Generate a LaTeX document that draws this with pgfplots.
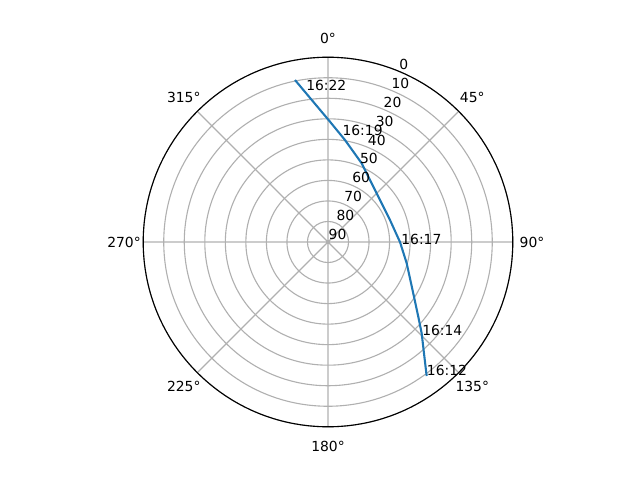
\documentclass[border=0pt]{standalone}
\usepackage{fontspec}
\setmainfont{DejaVu Sans}
\usepackage{pgfplots}
\usepackage{pgfplotstable}
\usepgfplotslibrary{polar}
\pgfplotsset{compat=1.18}
\definecolor{mplblue}{HTML}{1F77B4}
\definecolor{gridgray}{HTML}{B0B0B0}

% pass track: azimuth (deg, clockwise from north), elevation (deg)
\pgfplotstableread{
az      el
143.63  8.95
139.22  18.42
134.26  26.29
129.60  32.93
122.46  40.36
105.14  50.29
90.00   54.94
70.46   57.96
45.00   56.46
23.18   48.31
9.46    39.64
0.95    31.40
353.49  20.40
348.49  9.48
}\track

\begin{document}
\begin{tikzpicture}
\begin{polaraxis}[
  width=266.1pt, height=266.1pt, scale only axis,
  xmin=0, xmax=360, ymin=0, ymax=90,
  xtick={0,45,...,315}, ytick={0,10,...,90},
  xticklabels={}, yticklabels={},
  major tick length=0pt,
  xmajorgrids, ymajorgrids,
  grid style={color=gridgray, line width=0.8pt},
  axis line style={black, line width=0.8pt},
  y axis line style={draw=none},
  clip=false,
]
\coordinate (c) at (axis cs:0,0);

\addplot[no marks, color=mplblue, line width=1.5pt]
  table[x expr={90-\thisrow{az}}, y expr={90-\thisrow{el}}] {\track};

% angular labels (azimuth)
\pgfplotsinvokeforeach{0,45,...,315}{
  \node[font=\fontsize{10}{12}\selectfont] at (axis cs:{90-#1},99.35) {#1°};
}
% radial labels (elevation)
\pgfplotsinvokeforeach{0,10,...,90}{
  \node[anchor=south west, inner sep=0pt, xshift=0.3pt, yshift=1.2pt,
        font=\fontsize{10}{12}\selectfont] at (axis cs:67.5,{90-#1}) {#1};
}
% time stamps
\node[anchor=base west, inner sep=0pt] at (axis cs:{90-143.6},{90-9.0}) {16:12};
\node[anchor=base west, inner sep=0pt] at (axis cs:{90-134.7},{90-25.6}) {16:14};
\node[anchor=base west, inner sep=0pt] at (axis cs:{90-91.6},{90-54.4}) {16:17};
\node[anchor=base west, inner sep=0pt] at (axis cs:{90-7.66},{90-37.76}) {16:19};
\node[anchor=base west, inner sep=0pt] at (axis cs:{90-351.76},{90-15.2}) {16:22};
\end{polaraxis}
\path (c) ++(-236.16pt,-171.36pt) rectangle ++(460.8pt,345.6pt);
\end{tikzpicture}
\end{document}
